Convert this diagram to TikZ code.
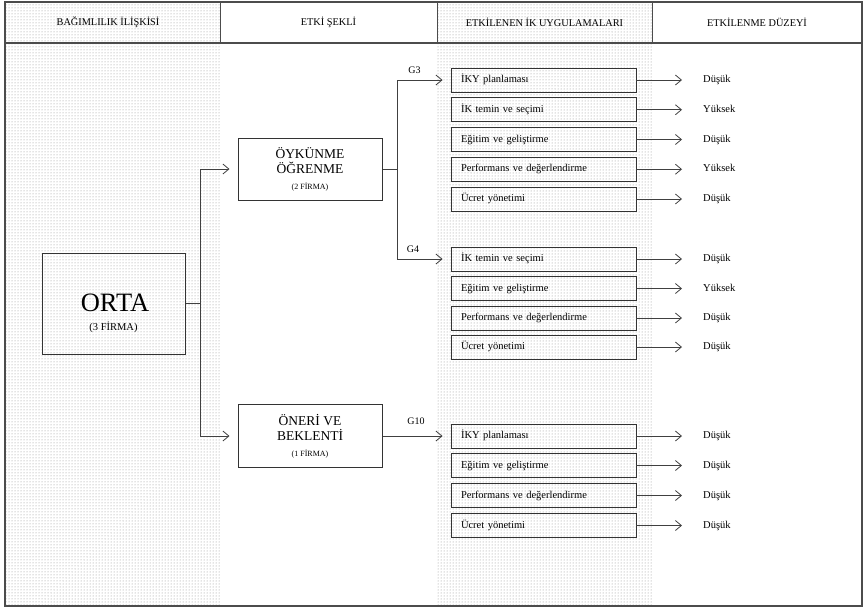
\documentclass[tikz,border=0pt]{standalone}
\usepackage{fontspec}
\setmainfont{Liberation Serif}
\usetikzlibrary{patterns,arrows.meta}

\begin{document}
\begin{tikzpicture}[x=1pt,y=-1pt,
    cizgi/.style={draw=black!75,line width=0.8pt},
    ok/.style={cizgi,-{Straight Barb[length=6pt,width=10pt]}},
    kutu/.style={draw=black!80,line width=1pt,align=center},
    madde/.style={draw=black!80,line width=0.9pt,minimum height=24pt,text width=165pt,inner xsep=10pt,
      text height=7.5pt,text depth=2.5pt,align=left,font=\fontsize{10.5}{12}\selectfont},
    duzey/.style={anchor=west,inner sep=0pt,text height=7.5pt,text depth=2.5pt,font=\fontsize{10.5}{12}\selectfont},
    baslik/.style={font=\fontsize{10.3}{12}\selectfont},
    kod/.style={font=\fontsize{10}{12}\selectfont}]

  \useasboundingbox (0,0) rectangle (863,611);
  % noktali sutunlar
  \fill[pattern=dots,pattern color=black!45] (5,2) rectangle (220,606);
  \fill[pattern=dots,pattern color=black!45] (437,2) rectangle (652,606);
  % cerceve
  \draw[draw=black!70,line width=1.2pt] (5,2) rectangle (862,606);
  \draw[draw=black!70,line width=1.2pt] (5,43) -- (862,43);
  \draw[draw=black!70,line width=1pt] (220,2) -- (220,43) (437,2) -- (437,43) (652,2) -- (652,43);

  \draw
    (108,22) node[baslik] (b1) {BAĞIMLILIK İLİŞKİSİ}
    (328.5,22) node[baslik] (b2) {ETKİ ŞEKLİ}
    (544.5,22) node[baslik] (b3) {ETKİLENEN İK UYGULAMALARI}
    (757,22) node[baslik] (b4) {ETKİLENME DÜZEYİ};

  % bagimlilik
  \node[kutu,minimum width=143pt,minimum height=101pt] (orta) at (113.5,303.5) {};
  \node[inner sep=0pt,font=\fontsize{26.5}{28}\selectfont] (ortaad) at (115,302.5) {ORTA};
  \node[inner sep=0pt,font=\fontsize{10.5}{12}\selectfont] (ortasay) at (113.5,327) {(3 FİRMA)};

  % etki sekli
  \node[kutu,minimum width=144pt,minimum height=62pt,font=\fontsize{13.5}{15}\selectfont] (oyk) at (310,169)
    {ÖYKÜNME\\ÖĞRENME\\[1pt]{\fontsize{8}{10}\selectfont (2 FİRMA)}};
  \node[kutu,minimum width=144pt,minimum height=63pt,font=\fontsize{13.5}{15}\selectfont] (oneri) at (310,436)
    {ÖNERİ VE\\BEKLENTİ\\[1pt]{\fontsize{8}{10}\selectfont (1 FİRMA)}};

  \coordinate (j1) at (200,303.5);
  \coordinate (j2) at (397,169);

  % uygulamalar
  \draw
    (543.5,80) node[madde] (g3a) {İKY planlaması}
    (543.5,109.75) node[madde] (g3b) {İK temin ve seçimi}
    (543.5,139.5) node[madde] (g3c) {Eğitim ve geliştirme}
    (543.5,169.25) node[madde] (g3d) {Performans ve değerlendirme}
    (543.5,199) node[madde] (g3e) {Ücret yönetimi}
    (543.5,259) node[madde] (g4a) {İK temin ve seçimi}
    (543.5,288.5) node[madde] (g4b) {Eğitim ve geliştirme}
    (543.5,318) node[madde] (g4c) {Performans ve değerlendirme}
    (543.5,347) node[madde] (g4d) {Ücret yönetimi}
    (543.5,436) node[madde] (g10a) {İKY planlaması}
    (543.5,465.5) node[madde] (g10b) {Eğitim ve geliştirme}
    (543.5,495.5) node[madde] (g10c) {Performans ve değerlendirme}
    (543.5,525.5) node[madde] (g10d) {Ücret yönetimi};

  \node[kod] (g3) at (414.5,70.5) {G3};
  \node[kod] (g4) at (413,249) {G4};
  \node[kod] (g10) at (416,421) {G10};

  % duzeyler
  \draw
    (703,80) node[duzey] (d3a) {Düşük}
    (703,109.75) node[duzey] (d3b) {Yüksek}
    (703,139.5) node[duzey] (d3c) {Düşük}
    (703,169.25) node[duzey] (d3d) {Yüksek}
    (703,199) node[duzey] (d3e) {Düşük}
    (703,259) node[duzey] (d4a) {Düşük}
    (703,288.5) node[duzey] (d4b) {Yüksek}
    (703,318) node[duzey] (d4c) {Düşük}
    (703,347) node[duzey] (d4d) {Düşük}
    (703,436) node[duzey] (d10a) {Düşük}
    (703,465.5) node[duzey] (d10b) {Düşük}
    (703,495.5) node[duzey] (d10c) {Düşük}
    (703,525.5) node[duzey] (d10d) {Düşük};

  \begin{scope}[cizgi]
    \draw (orta) -- (j1);
    \draw[ok,shorten >=8pt] (j1) |- (oyk);
    \draw[ok,shorten >=8pt] (j1) |- (oneri);
    \draw (oyk) -- (j2);
    \draw[ok,shorten >=8pt] (j2) |- (g3a);
    \draw[ok,shorten >=8pt] (j2) |- (g4a);
    \draw[ok,shorten >=8pt] (oneri) -- (g10a);
  \end{scope}
  \begin{scope}[ok,shorten >=21pt]
    \draw (g3a) -- (d3a);
    \draw (g3b) -- (d3b);
    \draw (g3c) -- (d3c);
    \draw (g3d) -- (d3d);
    \draw (g3e) -- (d3e);
    \draw (g4a) -- (d4a);
    \draw (g4b) -- (d4b);
    \draw (g4c) -- (d4c);
    \draw (g4d) -- (d4d);
    \draw (g10a) -- (d10a);
    \draw (g10b) -- (d10b);
    \draw (g10c) -- (d10c);
    \draw (g10d) -- (d10d);
  \end{scope}
\end{tikzpicture}
\end{document}
